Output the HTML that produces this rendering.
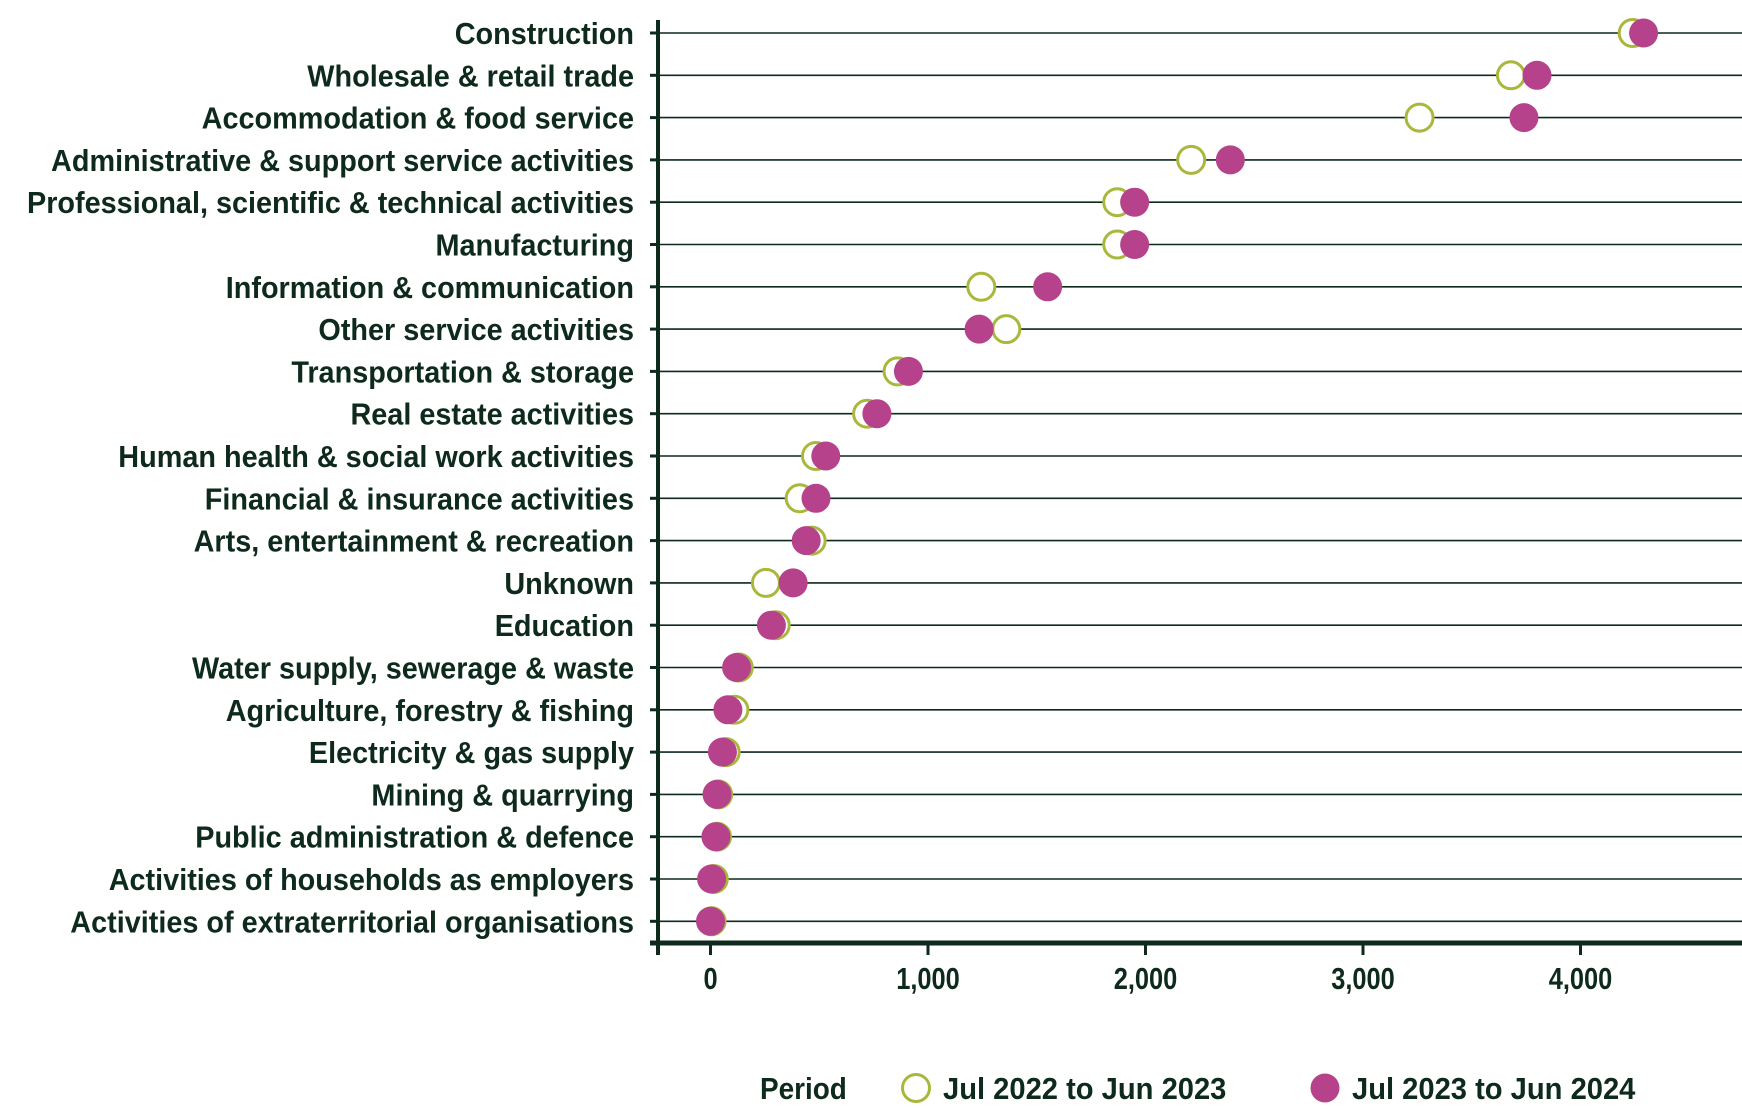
<!DOCTYPE html>
<html><head><meta charset="utf-8"><style>
html,body{margin:0;padding:0;background:#fff;}
svg{display:block;font-family:"Liberation Sans",sans-serif;}
</style></head><body>
<svg id="chart" width="1742" height="1110" viewBox="0 0 1742 1110" xmlns="http://www.w3.org/2000/svg">
<g id="grid"></g>
<g id="ylabels"></g>
<g id="xlabels"></g>
<g id="marks"></g>
<g id="axes"></g>
<g>
  <text x="760" y="1099" font-size="31" font-weight="bold" fill="#0d2a1c" transform="translate(760,0) scale(0.9,1) translate(-760,0)">Period</text>
  <circle cx="916" cy="1088" r="13.5" fill="#fff" stroke="#a9b83c" stroke-width="3"/>
  <text x="943" y="1099" font-size="31" font-weight="bold" fill="#0d2a1c" transform="translate(943,0) scale(0.94,1) translate(-943,0)">Jul 2022 to Jun 2023</text>
  <circle cx="1325" cy="1088" r="14.5" fill="#b5428a"/>
  <text x="1352" y="1099" font-size="31" font-weight="bold" fill="#0d2a1c" transform="translate(1352,0) scale(0.94,1) translate(-1352,0)">Jul 2023 to Jun 2024</text>
</g>
</svg>
<script>
const categories = ["Construction","Wholesale & retail trade","Accommodation & food service","Administrative & support service activities","Professional, scientific & technical activities","Manufacturing","Information & communication","Other service activities","Transportation & storage","Real estate activities","Human health & social work activities","Financial & insurance activities","Arts, entertainment & recreation","Unknown","Education","Water supply, sewerage & waste","Agriculture, forestry & fishing","Electricity & gas supply","Mining & quarrying","Public administration & defence","Activities of households as employers","Activities of extraterritorial organisations"];
const series2022 = [4240,3680,3260,2210,1870,1870,1245,1360,860,720,485,410,465,255,300,130,110,70,35,30,15,5];
const series2023 = [4290,3800,3740,2390,1950,1950,1550,1235,910,765,530,485,440,380,280,120,80,55,30,25,5,0];
const xTicks = [0,1000,2000,3000,4000];
const xTickLabels = ["0","1,000","2,000","3,000","4,000"];

const NS="http://www.w3.org/2000/svg";
const x0=710.5, pxPerUnit=0.2175, yTop=33, rowGap=42.3;
const xScale=v=>x0+v*pxPerUnit;
const yScale=i=>yTop+i*rowGap;
const axisX=658, axisY=943, ink="#0d2a1c";
function mk(tag,attrs,parent){const e=document.createElementNS(NS,tag);for(const k in attrs)e.setAttribute(k,attrs[k]);parent.appendChild(e);return e;}
const grid=document.getElementById('grid'),yl=document.getElementById('ylabels'),xl=document.getElementById('xlabels'),marks=document.getElementById('marks'),axes=document.getElementById('axes');

categories.forEach((c,i)=>{
  const y=yScale(i);
  const g=mk('line',{x1:axisX,x2:1742,y1:y,y2:y,stroke:'#0d2a1c','stroke-width':1.6},grid);
  
  
  const t=mk('line',{x1:axisX-8,x2:axisX,y1:y,y2:y,stroke:ink,'stroke-width':3},axes);
  
  
  const tx=mk('text',{x:0,y:0,'font-size':31,'font-weight':'bold','text-anchor':'end',fill:ink,transform:`translate(634,${y+11}) scale(0.93,1)`},yl);
  tx.textContent=c;
  
  
});
xTicks.forEach((v,i)=>{
  const x=xScale(v);
  const t=mk('line',{x1:x,x2:x,y1:axisY,y2:axisY+12,stroke:ink,'stroke-width':3},axes);
  
  
  const tx=mk('text',{x:0,y:0,'font-size':31,'font-weight':'bold','text-anchor':'middle',fill:ink,transform:`translate(${x},${989}) scale(0.82,1)`},xl);
  tx.textContent=xTickLabels[i];
  
  
});
const ya=mk('line',{x1:axisX,x2:axisX,y1:20,y2:axisY+12,stroke:ink,'stroke-width':4},axes);


const xa=mk('line',{x1:axisX-8,x2:1742,y1:axisY,y2:axisY,stroke:ink,'stroke-width':5},axes);



categories.forEach((c,i)=>{
  const y=yScale(i);
  const a=mk('circle',{cx:xScale(series2022[i]),cy:y,r:13.5,fill:'#fff',stroke:'#a9b83c','stroke-width':3},marks);
  
  
});
categories.forEach((c,i)=>{
  const y=yScale(i);
  const b=mk('circle',{cx:xScale(series2023[i]),cy:y,r:14.5,fill:'#b5428a'},marks);
  
  
});
</script>
</body></html>
